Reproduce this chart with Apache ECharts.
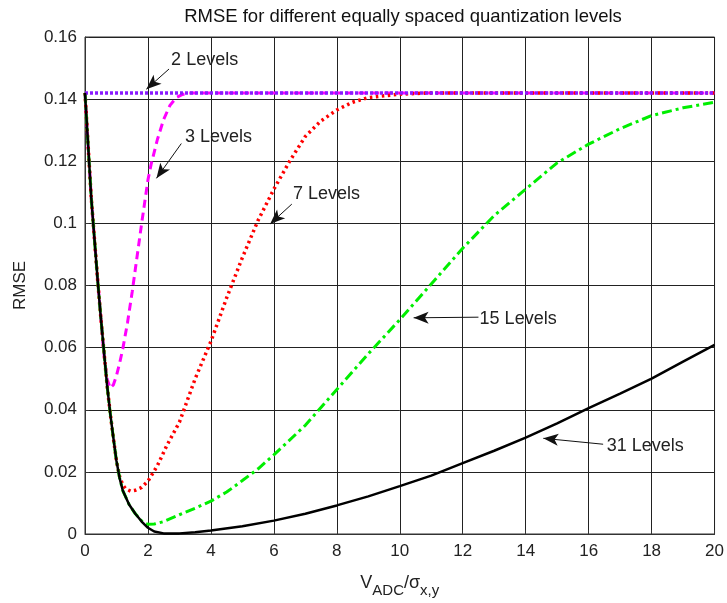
<!DOCTYPE html>
<html>
<head>
<meta charset="utf-8">
<script src="https://cdn.jsdelivr.net/npm/echarts@6/dist/echarts.min.js"></script>
<style>
  html, body { margin: 0; padding: 0; background: #fff; }
  #main { width: 727px; height: 603px; }
</style>
</head>
<body>
<div id="main"></div>
<script>
// curves, [x, rmse]
const lv31X = [0, 0.1, 0.2, 0.3, 0.4, 0.5, 0.6, 0.7, 0.8, 0.9, 1.0, 1.1, 1.2, 1.4, 1.6, 1.8, 2.0, 2.2, 2.5, 3, 3.5, 4, 5, 6, 7, 8, 9, 10, 11, 12, 13, 14, 15, 16, 17, 18, 19, 20];
const lv31Y = [0.142, 0.125, 0.108, 0.095, 0.082, 0.07, 0.059, 0.048, 0.039, 0.031, 0.0235, 0.018, 0.014, 0.0095, 0.0065, 0.004, 0.002, 0.0008, 0.0002, 0.0002, 0.0006, 0.0011, 0.0025, 0.0043, 0.0065, 0.0092, 0.0121, 0.0154, 0.0188, 0.0228, 0.0268, 0.031, 0.0356, 0.0405, 0.0452, 0.05, 0.0555, 0.0609];

const lv15X = [0, 0.1, 0.2, 0.3, 0.4, 0.5, 0.6, 0.7, 0.8, 0.9, 1.0, 1.1, 1.2, 1.4, 1.6, 1.8, 1.9, 2.0, 2.2, 2.5, 3, 3.5, 4, 4.5, 5, 5.5, 6, 7, 8, 9, 10, 11, 12, 13, 14, 15, 16, 17, 18, 19, 20];
const lv15Y = [0.142, 0.125, 0.108, 0.095, 0.082, 0.07, 0.059, 0.048, 0.039, 0.031, 0.0235, 0.018, 0.014, 0.0095, 0.0065, 0.0042, 0.0035, 0.0031, 0.0032, 0.004, 0.0062, 0.0083, 0.0106, 0.0135, 0.0172, 0.021, 0.0255, 0.035, 0.0465, 0.058, 0.069, 0.0805, 0.092, 0.1025, 0.111, 0.1195, 0.1255, 0.1305, 0.1347, 0.1372, 0.139];

const lv7X = [0, 0.1, 0.2, 0.3, 0.4, 0.5, 0.6, 0.7, 0.8, 0.9, 1.0, 1.1, 1.2, 1.3, 1.45, 1.6, 1.8, 2.0, 2.3, 2.6, 3.0, 3.5, 4, 4.5, 5, 5.5, 6, 6.5, 7, 7.5, 8, 8.5, 9, 10, 11, 20];
const lv7Y = [0.142, 0.125, 0.108, 0.095, 0.082, 0.07, 0.059, 0.048, 0.039, 0.031, 0.0235, 0.0185, 0.0158, 0.0145, 0.0138, 0.0141, 0.015, 0.017, 0.022, 0.0285, 0.036, 0.05, 0.062, 0.076, 0.089, 0.101, 0.111, 0.12, 0.128, 0.133, 0.1365, 0.139, 0.1405, 0.1416, 0.142, 0.142];

const lv3X = [0, 0.1, 0.2, 0.3, 0.4, 0.5, 0.6, 0.7, 0.8, 0.9, 1.0, 1.1, 1.2, 1.35, 1.5, 1.65, 1.8, 1.9, 2.0, 2.1, 2.3, 2.5, 2.7, 2.9, 3.1, 3.3, 20];
const lv3Y = [0.142, 0.125, 0.108, 0.095, 0.082, 0.07, 0.058, 0.05, 0.047, 0.048, 0.051, 0.055, 0.0596, 0.068, 0.078, 0.089, 0.1, 0.107, 0.114, 0.119, 0.127, 0.1335, 0.138, 0.1405, 0.1415, 0.142, 0.142];

const lv2X = [0, 20];
const lv2Y = [0.142, 0.142];

// annotation text anchors and arrows (data coords)
const noteNames = ['2 Levels', '3 Levels', '7 Levels', '15 Levels', '31 Levels'];
const noteText = [[2.72, 0.1526], [3.16, 0.1277], [6.59, 0.1096], [12.52, 0.0692], [16.56, 0.0282]];
const noteFrom = [[2.67, 0.1497], [3.06, 0.1257], [6.57, 0.1062], [12.5, 0.0698], [16.46, 0.0289]];
const noteTo = [[1.95, 0.1432], [2.27, 0.1145], [5.88, 0.0998], [10.44, 0.0696], [14.56, 0.0308]];

const xTicks = [0, 20, 2];
const yTicks = [0, 0.16, 0.02];

function pairs(xs, ys) {
  return xs.map((x, i) => [x, ys[i]]);
}

const chart = echarts.init(document.getElementById('main'), null, { renderer: 'canvas' });

const font = 'Liberation Sans, Arial, sans-serif';

function curve(name, xs, ys, color, width, dash, z) {
  return {
    name: name,
    type: 'line',
    data: pairs(xs, ys),
    showSymbol: false,
    symbol: 'none',
    z: z,
    lineStyle: { color: color, width: width, type: dash, cap: 'butt' },
    emphasis: { disabled: true },
  };
}

const arrows = noteFrom.map((p, i) => [
  { coord: p, symbol: 'none' },
  { coord: noteTo[i], symbol: 'arrow', symbolSize: [9, 15] },
]);

const notes = noteNames.map((n, i) => ({
  name: n,
  coord: noteText[i],
  value: n,
}));

const twoLevels = curve('2 Levels', lv2X, lv2Y, '#8a1cff', 3.5, [3, 2], 5);
twoLevels.markLine = {
  silent: true,
  animation: false,
  label: { show: false },
  lineStyle: { color: '#111', width: 1, type: 'solid' },
  data: arrows,
};
twoLevels.markPoint = {
  silent: true,
  animation: false,
  symbol: 'circle',
  symbolSize: 1,
  itemStyle: { color: 'rgba(0,0,0,0)' },
  label: {
    show: true,
    position: 'right',
    distance: 0,
    formatter: '{b}',
    color: '#222',
    fontSize: 18,
    fontFamily: font,
  },
  data: notes,
};

const option = {
  animation: false,
  backgroundColor: '#fff',
  title: {
    text: 'RMSE for different equally spaced quantization levels',
    left: 398,
    textAlign: 'center',
    top: 2,
    textStyle: { fontSize: 18.5, fontWeight: 'normal', color: '#111', fontFamily: font },
  },
  grid: {
    left: 85,
    right: 9,
    top: 37,
    bottom: 66,
    show: true,
    borderColor: '#333',
    borderWidth: 1,
  },
  xAxis: {
    type: 'value',
    min: xTicks[0],
    max: xTicks[1],
    interval: xTicks[2],
    name: '{n|V}{s|ADC}{n|/σ}{s|x,y}',
    nameLocation: 'middle',
    nameGap: 36,
    nameTextStyle: {
      color: '#222',
      fontFamily: font,
      rich: {
        n: { fontSize: 18, fontFamily: font, color: '#222', verticalAlign: 'bottom', lineHeight: 22 },
        s: { fontSize: 15, fontFamily: font, color: '#222', verticalAlign: 'bottom', lineHeight: 22, padding: [0, 0, -6, 0] },
      },
    },
    axisLine: { show: true, lineStyle: { color: '#333', width: 1 } },
    axisTick: { show: true, inside: true, length: 4, lineStyle: { color: '#333' } },
    axisLabel: { color: '#222', fontSize: 17, fontFamily: font, margin: 9 },
    splitLine: { show: true, lineStyle: { color: '#222', width: 1 } },
  },
  yAxis: {
    type: 'value',
    min: yTicks[0],
    max: yTicks[1],
    interval: yTicks[2],
    name: 'RMSE',
    nameLocation: 'middle',
    nameRotate: 90,
    nameGap: 56,
    nameTextStyle: { color: '#222', fontSize: 17, fontFamily: font },
    axisLine: { show: true, lineStyle: { color: '#333', width: 1 } },
    axisTick: { show: true, inside: true, length: 4, lineStyle: { color: '#333' } },
    axisLabel: { color: '#222', fontSize: 17, fontFamily: font, margin: 8 },
    splitLine: { show: true, lineStyle: { color: '#222', width: 1 } },
  },
  series: [
    curve('3 Levels', lv3X, lv3Y, '#ff00ff', 3, [8, 5], 2),
    curve('7 Levels', lv7X, lv7Y, '#ff0000', 3.5, [2.5, 3.5], 3),
    curve('15 Levels', lv15X, lv15Y, '#00ee00', 3, [10, 4, 3, 4], 4),
    curve('31 Levels', lv31X, lv31Y, '#000000', 2.5, 'solid', 6),
    twoLevels,
  ],
};

chart.setOption(option);
</script>
</body>
</html>
